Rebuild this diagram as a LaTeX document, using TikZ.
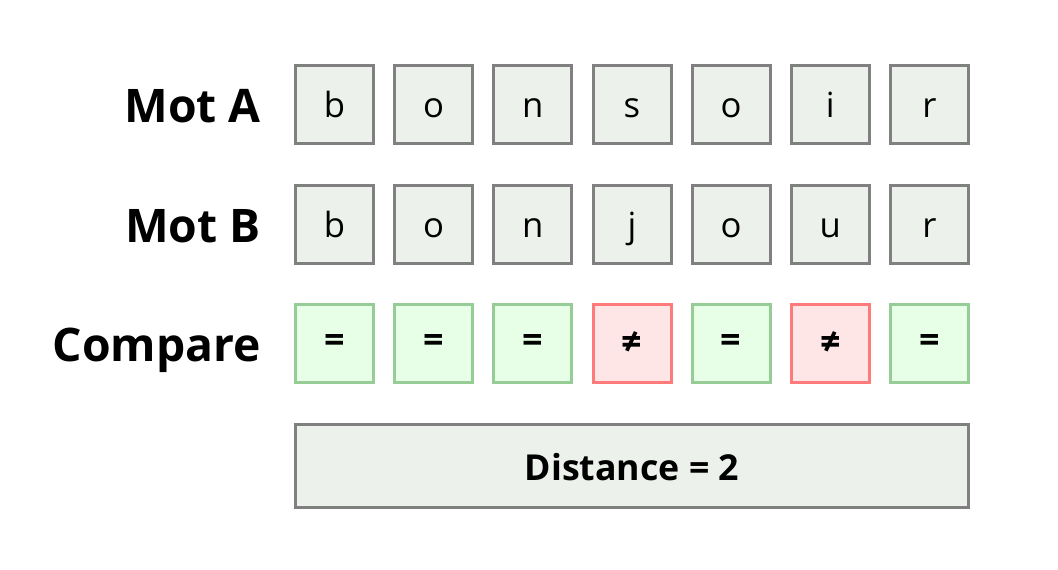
\documentclass[tikz,border=0pt]{standalone}
\usepackage{fontspec}
\setmainfont{Open Sans}
\definecolor{cellgray}{RGB}{237,241,236}
\definecolor{edgegray}{RGB}{128,128,128}
\definecolor{okfill}{RGB}{230,255,230}
\definecolor{okedge}{RGB}{150,205,150}
\definecolor{badfill}{RGB}{255,230,230}
\definecolor{badedge}{RGB}{255,122,122}
\tikzset{
  cell/.style={draw=edgegray, fill=cellgray, line width=2.25pt,
    minimum size=58.5pt, inner sep=0pt, font=\fontsize{26}{30}\selectfont,
    text height=18.75pt, text depth=0pt},
  same/.style={draw=okedge, fill=okfill, line width=2.25pt,
    minimum size=58.5pt, inner sep=0pt, font=\fontsize{27}{30}\selectfont\bfseries},
  diff/.style={same, draw=badedge, fill=badfill},
  rowlabel/.style={anchor=base east, inner sep=0pt, font=\fontsize{34.7}{40}\selectfont\bfseries},
}
\begin{document}
\begin{tikzpicture}[x=0.75pt, y=-0.75pt]
\useasboundingbox (0,0) rectangle (1058,569);
% row labels
\node[rowlabel] (labA) at (261,122) {Mot A};
\node[rowlabel] (labB) at (261,242) {Mot B};
\node[rowlabel] (labC) at (261,361) {Compare};
% words
\foreach \ch [count=\i] in {b,o,n,s,o,i,r}
  \node[cell] (a\i) at ({334.5+99.17*(\i-1)},104.5) {\ch};
\foreach \ch [count=\i] in {b,o,n,j,o,u,r}
  \node[cell] (b\i) at ({334.5+99.17*(\i-1)},224.5) {\ch};
% comparison
\foreach \st/\ch [count=\i] in {same/=,same/=,same/=,diff/≠,same/=,diff/≠,same/=}
  \node[\st] (c\i) at ({334.5+99.17*(\i-1)},343.5) {\ch};
% result
\node[draw=edgegray, fill=cellgray, line width=2.25pt, minimum width=504.75pt,
  minimum height=62.25pt, inner sep=0pt, text height=21pt, text depth=0pt,
  font=\fontsize{26.8}{30}\selectfont\bfseries] (dist) at (632,466) {Distance = 2};
\end{tikzpicture}
\end{document}
